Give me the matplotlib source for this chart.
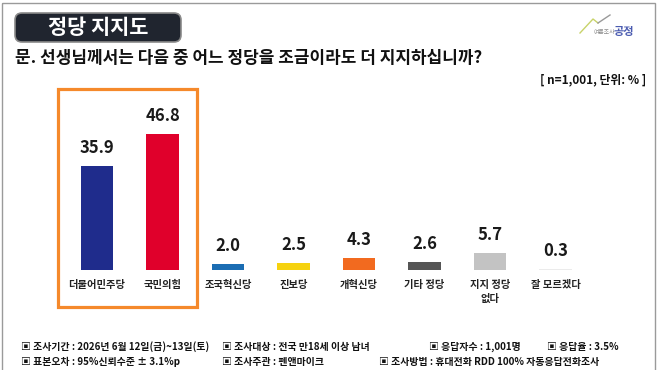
import matplotlib
matplotlib.use("Agg")
import matplotlib.pyplot as plt
from matplotlib.patches import Rectangle, FancyBboxPatch

plt.rcParams['font.family'] = ['Noto Sans CJK KR', 'DejaVu Sans']

# ---- data ----
categories = ["더불어민주당", "국민의힘", "조국혁신당", "진보당", "개혁신당", "기타 정당", "지지 정당\n없다", "잘 모르겠다"]
values = [35.9, 46.8, 2.0, 2.5, 4.3, 2.6, 5.7, 0.3]
value_labels = ["35.9", "46.8", "2.0", "2.5", "4.3", "2.6", "5.7", "0.3"]
colors = ["#1f2c8c", "#e0002b", "#1b6db3", "#f6d20e", "#f26a1f", "#555555", "#c3c3c3", "#ebebeb"]

title = "정당 지지도"
question = "문. 선생님께서는 다음 중 어느 정당을 조금이라도 더 지지하십니까?"
unit_note = "[ n=1,001, 단위: % ]"
footer_line1 = [("▣ 조사기간 : 2026년 6월 12일(금)~13일(토)", 21),
                ("▣ 조사대상 : 전국 만18세 이상 남녀", 222),
                ("▣ 응답자수 : 1,001명", 429),
                ("▣ 응답율 : 3.5%", 547)]
footer_line2 = [("▣ 표본오차 : 95%신뢰수준 ± 3.1%p", 21),
                ("▣ 조사주관 : 펜앤마이크", 222),
                ("▣ 조사방법 : 휴대전화 RDD 100% 자동응답전화조사", 379)]

W, H = 658, 370
fig = plt.figure(figsize=(W / 100, H / 100), dpi=100)
fig.patch.set_facecolor("white")

# overlay axes in pixel coordinates (y downward)
ov = fig.add_axes([0, 0, 1, 1])
ov.set_xlim(0, W)
ov.set_ylim(H, 0)
ov.axis("off")

# outer frame
ov.add_patch(Rectangle((2, 3), 653, 380, fill=False, edgecolor="#9a9a9a", lw=1.0))

# title box
ov.add_patch(FancyBboxPatch((15, 13), 166, 29, boxstyle="round,pad=0,rounding_size=7",
                            facecolor="#20252f", edgecolor="#8a8a8a", lw=1.2))
ov.text(98, 27.5, title, color="white", fontsize=15, fontweight="bold", ha="center", va="center")

# question
ov.text(15, 58, question, color="#111111", fontsize=12.2, fontweight="bold", ha="left", va="center")

# unit note
ov.text(646, 80, unit_note, color="#111111", fontsize=8.5, fontweight="bold", ha="right", va="center")

# logo
ov.plot([580, 593, 598], [33, 19, 23], color="#c8d36a", lw=1.0)
ov.plot([598, 610], [23, 15], color="#9a9a9a", lw=1.0)
ov.text(604, 33, "여론조사", color="#8a8a8a", fontsize=4.2, ha="center", va="center")
ov.text(624, 32, "공정", color="#4a5bb0", fontsize=8, fontweight="bold", ha="center", va="center")

# orange highlight rectangle
ov.add_patch(Rectangle((58, 89), 139, 218, fill=False, edgecolor="#f5892b", lw=2.3, zorder=5))

# footer
for txt, x in footer_line1:
    ov.text(x, 347, txt, color="#111111", fontsize=7.1, fontweight="bold", ha="left", va="center")
for txt, x in footer_line2:
    ov.text(x, 362, txt, color="#111111", fontsize=7.1, fontweight="bold", ha="left", va="center")

# ---- bar chart axes ----
step = 65.5
left_px = 97 - 0.5 * step
base_px = 270
ppu = 2.9
top_val = 60
ax = fig.add_axes([left_px / W, (H - base_px) / H, 8 * step / W, top_val * ppu / H])
ax.patch.set_alpha(0)
x = list(range(len(categories)))
ax.bar(x, values, width=0.49, color=colors, zorder=3)
ax.set_xlim(-0.5, 7.5)
ax.set_ylim(0, top_val)
for xi, v, lab in zip(x, values, value_labels):
    ax.annotate(lab, (xi, v), xytext=(0, 9), textcoords="offset pixels", ha="center", va="bottom",
                fontsize=12, fontweight="bold", color="#1a1a1a")
ax.set_xticks(x)
ax.set_xticklabels(categories, fontsize=7.4, fontweight="bold", color="#222222",
                   va="top", linespacing=1.45)
ax.tick_params(axis="x", length=0, pad=7)
ax.set_yticks([])
for s in ax.spines.values():
    s.set_visible(False)

fig.savefig("out.png", dpi=100, facecolor="white")
